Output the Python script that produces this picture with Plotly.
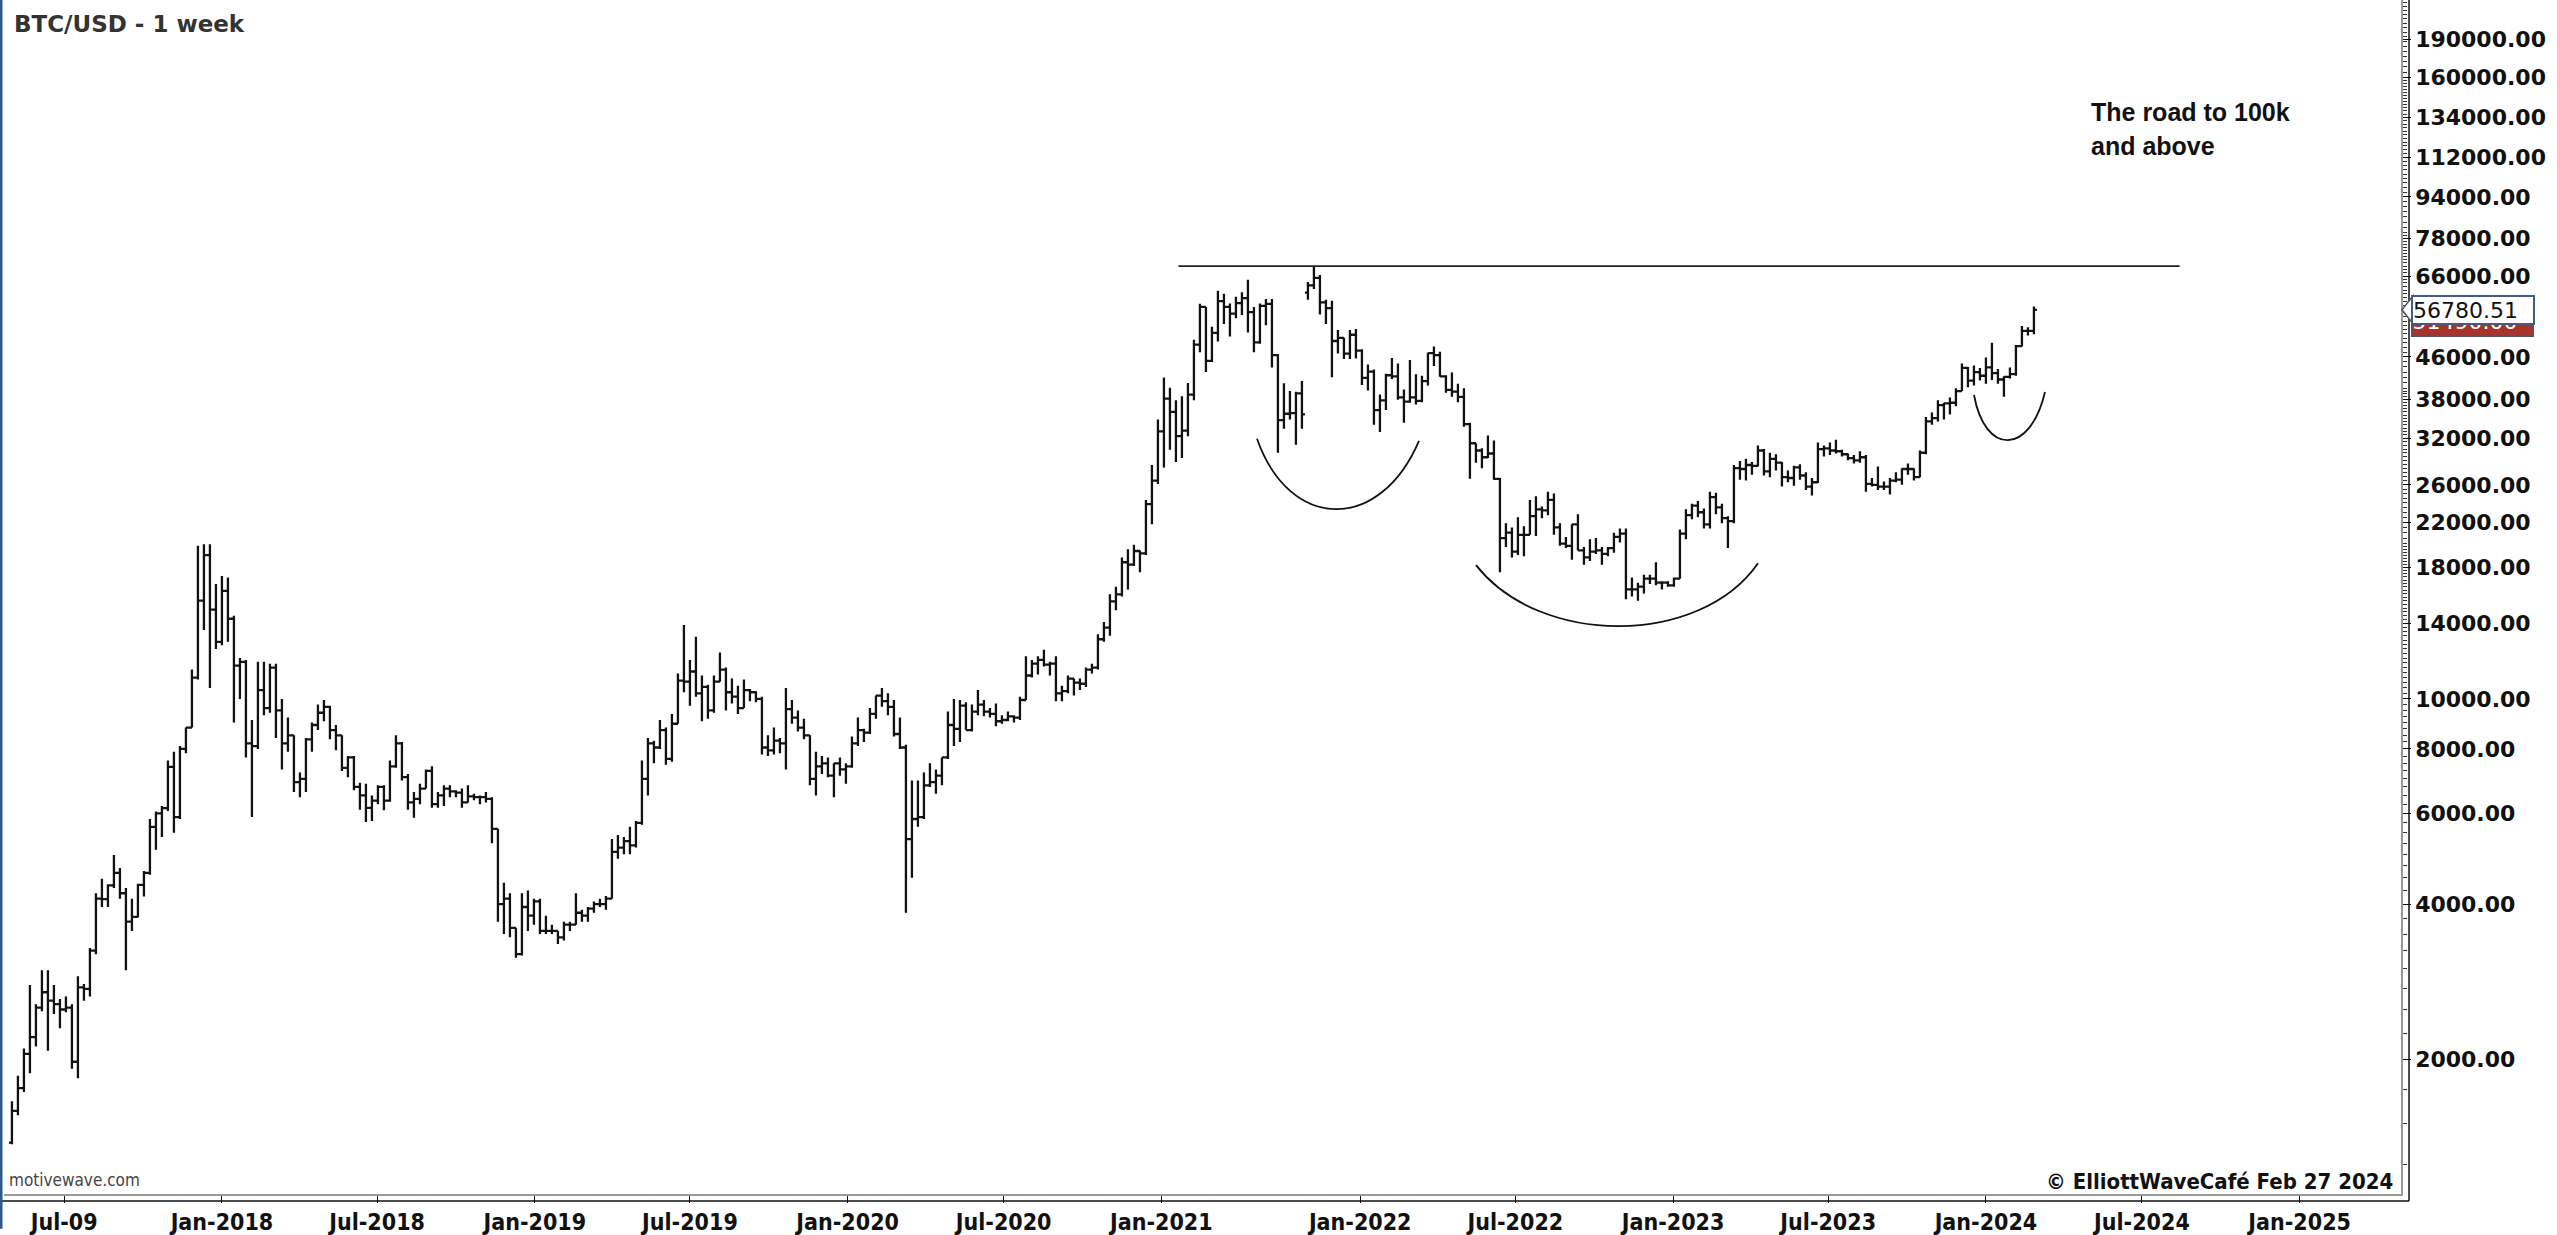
import numpy as np
import pandas as pd
import plotly.graph_objects as go

# ---------------- data: weekly bars [open, high, low, close] ----------------
bars_2017 = [
    [1380, 1660, 1370, 1590], [1590, 1860, 1560, 1760], [1760, 2100, 1730, 2050], [2050, 2790, 1880, 2210],
    [2210, 2560, 2120, 2520], [2520, 2980, 2480, 2700], [2700, 2980, 2080, 2600], [2600, 2790, 2450, 2560],
    [2560, 2620, 2300, 2500], [2500, 2650, 2470, 2520], [2520, 2560, 1920, 1980], [1980, 2900, 1840, 2760],
    [2760, 2800, 2600, 2740], [2740, 3290, 2650, 3250], [3250, 4200, 3200, 4100], [4100, 4480, 3950, 4090],
    [4090, 4370, 3950, 4350], [4350, 4980, 4300, 4600], [4600, 4700, 4100, 4200], [4200, 4300, 2980, 3700],
    [3700, 4100, 3550, 3780], [3780, 4380, 3770, 4360], [4360, 4640, 4140, 4600], [4600, 5850, 4560, 5650],
    [5650, 6050, 5100, 6000], [6000, 6200, 5400, 6140], [6140, 7600, 6060, 7380], [7380, 7900, 5500, 5900],
    [5900, 8100, 5850, 8000], [8000, 8800, 7850, 8800], [8800, 11400, 8800, 11000], [11000, 19800, 10900, 15500],
    [15500, 19950, 13600, 19000], [19000, 19950, 10500, 14900], [14900, 16700, 12500, 12900],
]
bars_2018 = [
    [12900, 17300, 12700, 16200], [16200, 17200, 12900, 14300], [14300, 14500, 9000, 11600], [11600, 12000, 10000, 11800],
    [11800, 11900, 7700, 8200], [8200, 9100, 5900, 8100], [8100, 11800, 8000, 10400], [10400, 11800, 9300, 9600],
    [9600, 11700, 9400, 11500], [11500, 11700, 8400, 9500], [9500, 10000, 7300, 8200], [8200, 9200, 7900, 8500],
    [8500, 8500, 6600, 6900], [6900, 7200, 6450, 7000], [7000, 8400, 6600, 8350], [8350, 9000, 7900, 8900],
    [8900, 9750, 8700, 9400], [9400, 9950, 9050, 9650], [9650, 9700, 8350, 8700], [8700, 8900, 7950, 8500],
    [8500, 8500, 7250, 7350], [7350, 7750, 7050, 7700], [7700, 7750, 6650, 6750], [6750, 6880, 6100, 6500],
    [6500, 6850, 5770, 6150], [6150, 6500, 5800, 6350], [6350, 6800, 6250, 6750], [6750, 6800, 6080, 6350],
    [6350, 7600, 6320, 7400], [7400, 8500, 7350, 8200], [8200, 8250, 6950, 7050], [7050, 7150, 6100, 6300],
    [6300, 6600, 5880, 6400], [6400, 6850, 6250, 6700], [6700, 7300, 6700, 7250], [7250, 7400, 6150, 6250],
    [6250, 6600, 6150, 6500], [6500, 6800, 6200, 6700], [6700, 6800, 6450, 6620], [6620, 6650, 6450, 6580],
    [6580, 6700, 6150, 6300], [6300, 6800, 6300, 6470], [6470, 6550, 6360, 6450], [6450, 6500, 6250, 6450],
    [6450, 6600, 6300, 6400], [6400, 6450, 5250, 5600], [5600, 5600, 3700, 4000], [4000, 4400, 3500, 4100],
    [4100, 4200, 3450, 3600], [3600, 3600, 3150, 3200], [3200, 4200, 3180, 3950], [3950, 4250, 3550, 3800],
    [3800, 4100, 3650, 4050],
]
bars_2019 = [
    [4050, 4100, 3500, 3550], [3550, 3800, 3500, 3550], [3550, 3650, 3500, 3550], [3550, 3550, 3350, 3450],
    [3450, 3700, 3400, 3650], [3650, 3700, 3550, 3650], [3650, 4200, 3650, 3850], [3850, 3900, 3700, 3800],
    [3800, 3950, 3700, 3920], [3920, 4050, 3850, 4000], [4000, 4100, 3950, 4000], [4000, 4150, 3900, 4100],
    [4100, 5350, 4100, 5050], [5050, 5450, 4900, 5150], [5150, 5400, 5000, 5300], [5300, 5650, 5000, 5200],
    [5200, 5800, 5150, 5750], [5750, 7600, 5700, 7000], [7000, 8400, 6500, 8200], [8200, 8300, 7500, 8050],
    [8050, 9100, 8000, 8700], [8700, 8800, 7450, 7650], [7650, 9350, 7550, 8950], [8950, 11200, 8950, 10850],
    [10850, 13900, 10300, 10800], [10800, 11900, 9700, 11300], [11300, 13200, 10100, 10250], [10250, 11100, 9050, 10550],
    [10550, 10650, 9150, 9500], [9500, 11100, 9400, 10800], [10800, 12300, 10800, 11400], [11400, 11500, 9500, 10300],
    [10300, 10950, 9800, 10100], [10100, 10600, 9350, 9600], [9600, 10900, 9600, 10400], [10400, 10450, 9900, 10300],
    [10300, 10350, 9850, 10000], [10000, 10100, 7800, 8050], [8050, 8500, 7750, 7950], [7950, 8800, 7800, 8300],
    [8300, 8400, 7850, 8200], [8200, 10500, 7300, 9550], [9550, 9950, 8950, 9200], [9200, 9500, 8650, 8800],
    [8800, 9150, 8350, 8500], [8500, 8500, 6800, 7000], [7000, 7900, 6500, 7400], [7400, 7750, 7150, 7500],
    [7500, 7700, 7050, 7100], [7100, 7500, 6450, 7500], [7500, 7700, 7100, 7300], [7300, 7500, 6850, 7400],
]
bars_2020 = [
    [7400, 8450, 7350, 8200], [8200, 9200, 8100, 8700], [8700, 8750, 8250, 8600], [8600, 9600, 8550, 9350],
    [9350, 10150, 9150, 10150], [10150, 10500, 9650, 9900], [9900, 10250, 9300, 9650], [9650, 9950, 8450, 8550],
    [8550, 9200, 8000, 8050], [8050, 8150, 3850, 5350], [5350, 6950, 4500, 5850], [5850, 6950, 5650, 5900],
    [5900, 7200, 5850, 6800], [6800, 7500, 6750, 6900], [6900, 7300, 6550, 7100], [7100, 7700, 6800, 7700],
    [7700, 9450, 7650, 8900], [8900, 10000, 8100, 8750], [8750, 9950, 8250, 9700], [9700, 9850, 8700, 8700],
    [8700, 9750, 8650, 9450], [9450, 10400, 9300, 9750], [9750, 9950, 9250, 9450], [9450, 9600, 9200, 9350],
    [9350, 9800, 8850, 9050], [9050, 9300, 8950, 9100], [9100, 9450, 9050, 9250], [9250, 9300, 9000, 9200],
    [9200, 10100, 9100, 9950], [9950, 12100, 9950, 11100], [11100, 11900, 11000, 11700], [11700, 12100, 11150, 11900],
    [11900, 12450, 11550, 11650], [11650, 11800, 11100, 11700], [11700, 12100, 9900, 10250], [10250, 10600, 9900, 10350],
    [10350, 11100, 10250, 10950], [10950, 10950, 10150, 10750], [10750, 10950, 10400, 10700], [10700, 11500, 10550, 11400],
    [11400, 11700, 11200, 11500], [11500, 13350, 11400, 13050], [13050, 14100, 12900, 13750], [13750, 15950, 13250, 15450],
    [15450, 16500, 14850, 15950], [15950, 18800, 15800, 18400], [18400, 19500, 16300, 18200], [18200, 19900, 18100, 19350],
    [19350, 19400, 17600, 19150], [19150, 24300, 19000, 23850], [23850, 28400, 21800, 26500], [26500, 34800, 26100, 33000],
]
bars_2021_h1 = [
    [33000, 41950, 28100, 38200], [38200, 40100, 30400, 36000], [36000, 37900, 28800, 32300], [32300, 38600, 29300, 33100],
    [33100, 40950, 32300, 38900], [38900, 49700, 37900, 48600], [48600, 58350, 47000, 57500], [57500, 57500, 43000, 45200],
    [45200, 52650, 45000, 51200], [51200, 61800, 49300, 59000], [59000, 61000, 53300, 57500], [57500, 58400, 50400, 55800],
    [55800, 60200, 54700, 58500], [58500, 61400, 55500, 59800], [59800, 64900, 51300, 56200], [56200, 57500, 47000, 49100],
    [49100, 58400, 48800, 57800], [57800, 59600, 53000, 58300], [58300, 59600, 43900, 46400], [46400, 46600, 30000, 34700],
    [34700, 40900, 33400, 35700], [35700, 39500, 34800, 35800], [35800, 39400, 31100, 39100], [39100, 41300, 33400, 35600],
]
bars_2021_h2 = [
    [61300, 64300, 59400, 63300], [63300, 69000, 62300, 65500], [65500, 66300, 55600, 58700], [58700, 59400, 53300, 57200],
    [57200, 59100, 42000, 49400], [49400, 51900, 46700, 50100], [50100, 50100, 45600, 46700], [46700, 51900, 45600, 50800],
    [50800, 52100, 45700, 47300],
]
bars_2022 = [
    [47300, 47600, 40600, 41900], [41900, 44500, 39600, 43100], [43100, 43500, 34000, 36300], [36300, 38900, 32900, 37900],
    [37900, 42700, 36300, 42400], [42400, 45800, 41700, 42200], [42200, 44700, 38000, 38400], [38400, 39800, 34300, 37700],
    [37700, 45400, 37500, 38400], [38400, 42600, 37200, 37800], [37800, 42300, 37600, 41300], [41300, 46900, 40500, 46800],
    [46800, 48200, 44200, 46400], [46400, 47100, 42100, 42200], [42200, 42400, 39200, 39700], [39700, 42900, 38500, 39400],
    [39400, 40800, 37600, 38500], [38500, 40000, 33700, 34100], [34100, 34300, 26700, 31300], [31300, 31300, 28700, 30300],
    [30300, 30600, 28000, 29400], [29400, 32400, 29300, 29900], [29900, 31700, 26600, 26700], [26700, 26800, 17600, 20500],
    [20500, 21900, 19700, 21000], [21000, 21500, 18800, 19300], [19300, 22500, 19000, 20800], [20800, 21600, 18900, 20800],
    [20800, 24300, 20800, 22600], [22600, 24700, 20700, 23300], [23300, 23600, 22400, 23200], [23200, 25200, 22700, 24300],
    [24300, 25000, 20800, 21500], [21500, 21900, 19800, 20000], [20000, 20600, 19600, 19800], [19800, 21800, 18600, 21800],
    [21800, 22800, 19400, 19400], [19400, 19700, 18200, 18800], [18800, 20400, 18500, 19300], [19300, 20500, 19100, 19400],
    [19400, 19700, 18200, 19100], [19100, 19700, 18900, 19600], [19600, 21000, 19200, 20600], [20600, 21400, 20100, 20900],
    [20900, 21400, 15600, 16300], [16300, 17200, 15800, 16300], [16300, 16800, 15500, 16500], [16500, 17400, 16000, 17100],
    [17100, 17400, 16700, 17100], [17100, 18400, 16600, 16800], [16800, 16900, 16300, 16800], [16800, 16900, 16500, 16600],
]
bars_2023 = [
    [16600, 17200, 16500, 17100], [17100, 21300, 17100, 20900], [20900, 23300, 20400, 22700], [22700, 23900, 22300, 23700],
    [23700, 24200, 22500, 23000], [23000, 23400, 21400, 21800], [21800, 25200, 21400, 24600], [24600, 25100, 22800, 23500],
    [23500, 23900, 21900, 22400], [22400, 22600, 19600, 22100], [22100, 28400, 21900, 28000], [28000, 28900, 26600, 27900],
    [27900, 29200, 26500, 28400], [28400, 28800, 27200, 28300], [28300, 31000, 28200, 30300], [30300, 30500, 27100, 27600],
    [27600, 30000, 26900, 29200], [29200, 29800, 27700, 28700], [28700, 28800, 25800, 26900], [26900, 27700, 26300, 26800],
    [26800, 28300, 25900, 28100], [28100, 28500, 26600, 27100], [27100, 27500, 25400, 25800], [25800, 26800, 24800, 26300],
    [26300, 31400, 26200, 30500], [30500, 31000, 29500, 30600], [30600, 31400, 29700, 30300], [30300, 31800, 29900, 30200],
    [30200, 30400, 29500, 29800], [29800, 29900, 29000, 29300], [29300, 29700, 28600, 29000], [29000, 30200, 28700, 29400],
    [29400, 29700, 25200, 26100], [26100, 26800, 25800, 26000], [26000, 28200, 25400, 25800], [25800, 26400, 25400, 25800],
    [25800, 26800, 24900, 26500], [26500, 27500, 26300, 26600], [26600, 28000, 26000, 27900], [27900, 28600, 27200, 27900],
    [27900, 28000, 26500, 26900], [26900, 30300, 26900, 30000], [30000, 35200, 29800, 34500], [34500, 35900, 34000, 35000],
    [35000, 37900, 34500, 37100], [37100, 37500, 34800, 37400], [37400, 38400, 35600, 37500], [37500, 40000, 36900, 39500],
    [39500, 44700, 39500, 43800], [43800, 44000, 40200, 41400], [41400, 44300, 40500, 43000], [43000, 43800, 41400, 42300],
]
bars_2024 = [
    [42300, 45900, 40800, 43900], [43900, 49000, 41500, 42800], [42800, 43600, 40800, 41600], [41600, 42200, 38500, 42100],
    [42100, 43900, 41800, 42600], [42600, 48500, 42300, 48300], [48300, 52800, 48200, 51700], [51700, 52500, 50600, 51700],
    [51700, 57600, 50900, 56780.51],
]

# week-start dates of the two data segments (data feed has a hole Jun–Oct 2021)
seg1_dates = pd.date_range("2017-05-01", "2021-06-14", freq="7D")
seg2_dates = pd.date_range("2021-11-01", "2024-02-26", freq="7D")
seg1 = bars_2017 + bars_2018 + bars_2019 + bars_2020 + bars_2021_h1
seg2 = bars_2021_h2 + bars_2022 + bars_2023 + bars_2024
assert len(seg1) == len(seg1_dates), (len(seg1), len(seg1_dates))
assert len(seg2) == len(seg2_dates), (len(seg2), len(seg2_dates))

dates = list(seg1_dates) + list(seg2_dates)
ohlc = np.array(seg1 + seg2, dtype=float)
opens, highs, lows, closes = ohlc[:, 0], ohlc[:, 1], ohlc[:, 2], ohlc[:, 3]

data_gap = ["2021-06-21", "2021-11-01"]

x_tick_dates = ["2017-07-01", "2018-01-01", "2018-07-01", "2019-01-01", "2019-07-01", "2020-01-01",
                "2020-07-01", "2021-01-01", "2022-01-01", "2022-07-01", "2023-01-01", "2023-07-01",
                "2024-01-01", "2024-07-01", "2025-01-01"]
x_tick_labels = ["Jul-09", "Jan-2018", "Jul-2018", "Jan-2019", "Jul-2019", "Jan-2020", "Jul-2020",
                 "Jan-2021", "Jan-2022", "Jul-2022", "Jan-2023", "Jul-2023", "Jan-2024", "Jul-2024", "Jan-2025"]

y_tick_values = [2000, 4000, 6000, 8000, 10000, 14000, 18000, 22000, 26000, 32000, 38000, 46000,
                 56000, 66000, 78000, 94000, 112000, 134000, 160000, 190000]

resistance_level = 69000
resistance_dates = ["2021-01-21", "2024-08-14"]
prev_label_value = 51490.00

# ---------------- layout geometry ----------------
W, H = 2557, 1235
ML, MR, MT, MB = 4, 156, 0, 35
PW, PH = W - ML - MR, H - MT - MB
Y_RANGE = [3.04031, 5.35468]
X_RANGE = ["2017-04-21 18:00", "2025-04-29 06:00"]


def fx(px):
    return (px - ML) / PW


def fy(py):
    return 1 - (py - MT) / PH


def fy_val(v):
    return (np.log10(v) - Y_RANGE[0]) / (Y_RANGE[1] - Y_RANGE[0])


minor_vals = list(np.arange(1250, 10000, 250)) + list(np.arange(10000, 20000, 250)) + \
    list(np.arange(20000, 40000, 500)) + list(np.arange(40000, 80000, 1000)) + \
    list(np.arange(80000, 160000, 2000)) + list(np.arange(160000, 230000, 4000))
minor_vals = [float(v) for v in minor_vals]

fig = go.Figure()
fig.add_trace(go.Ohlc(
    x=dates, open=opens, high=highs, low=lows, close=closes,
    increasing=dict(line=dict(color="#111111", width=2.3)),
    decreasing=dict(line=dict(color="#111111", width=2.3)),
    tickwidth=0.5, showlegend=False, hoverinfo="skip",
))
fig.add_trace(go.Scatter(
    x=resistance_dates, y=[resistance_level, resistance_level], mode="lines",
    line=dict(color="#222222", width=1.6), showlegend=False, hoverinfo="skip",
))

shapes = []
# rounding-bottom arcs (pixel-anchored sketches)
arcs = [
    [(1257, 441), (1290, 535), (1380, 535), (1419, 443)],
    [(1476, 568), (1540, 650), (1700, 650), (1758, 566)],
    [(1974, 397), (1985, 458), (2030, 458), (2045, 394)],
]
for p0, c1, c2, p1 in arcs:
    path = "M {:.5f},{:.5f} C {:.5f},{:.5f} {:.5f},{:.5f} {:.5f},{:.5f}".format(
        fx(p0[0]), fy(p0[1]), fx(c1[0]), fy(c1[1]), fx(c2[0]), fy(c2[1]), fx(p1[0]), fy(p1[1]))
    shapes.append(dict(type="path", path=path, xref="paper", yref="paper",
                       line=dict(color="#111111", width=1.8)))
# outer black frame lines (bottom and right)
shapes.append(dict(type="line", xref="paper", yref="paper", x0=fx(0), x1=fx(2409), y0=fy(1207), y1=fy(1207),
                   line=dict(color="#111111", width=1.5)))
shapes.append(dict(type="line", xref="paper", yref="paper", x0=fx(2409), x1=fx(2409), y0=fy(1207), y1=fy(0),
                   line=dict(color="#111111", width=1.5)))
# left blue edge
shapes.append(dict(type="rect", xref="paper", yref="paper", x0=fx(0), x1=fx(2.5), y0=fy(H), y1=fy(0),
                   fillcolor="#2f5b88", line=dict(width=0)))
# pointer of the price tag
last_y = fy_val(closes[-1])
shapes.append(dict(type="path", xref="paper", yref="paper",
                   path="M {:.5f},{:.5f} L {:.5f},{:.5f} L {:.5f},{:.5f} Z".format(
                       fx(2402), last_y, fx(2413), last_y + 14 / PH, fx(2413), last_y - 14 / PH),
                   fillcolor="white", line=dict(color="#4a5a6a", width=1.5)))

annotations = [
    dict(text="BTC/USD - 1 week", x=fx(12), y=fy(9), xref="paper", yref="paper", xanchor="left", yanchor="top",
         showarrow=False, font=dict(family="DejaVu Sans", size=23, color="#333333", weight="bold")),
    dict(text="The road to 100k", x=fx(2089), y=fy(113), xref="paper", yref="paper", xanchor="left",
         yanchor="middle", showarrow=False,
         font=dict(family="Arial", size=25, color="#111111", weight="bold")),
    dict(text="and above", x=fx(2089), y=fy(147), xref="paper", yref="paper", xanchor="left",
         yanchor="middle", showarrow=False,
         font=dict(family="Arial", size=25, color="#111111", weight="bold")),
    dict(text="motivewave.com", x=fx(7), y=fy(1186), xref="paper", yref="paper", xanchor="left",
         yanchor="middle", showarrow=False,
         font=dict(family="DejaVu Sans Condensed, DejaVu Sans", size=17, color="#444444")),
    dict(text="\u00a9 ElliottWaveCaf\u00e9 Feb 27 2024", x=fx(2395), y=fy(1187), xref="paper", yref="paper",
         xanchor="right", yanchor="middle", showarrow=False,
         font=dict(family="DejaVu Sans Condensed, DejaVu Sans", size=22, color="#111111", weight="bold")),
    dict(text="{:.2f}".format(prev_label_value), x=fx(2411), y=last_y - 12 / PH, xref="paper", yref="paper",
         xanchor="left", yanchor="middle", showarrow=False, width=120, height=28, align="left",
         bgcolor="#a8322d", bordercolor="#555555", borderwidth=1.5, borderpad=0,
         font=dict(family="DejaVu Sans", size=22, color="white")),
    dict(text="{:.2f}".format(closes[-1]), x=fx(2411), y=last_y, xref="paper", yref="paper",
         xanchor="left", yanchor="middle", showarrow=False, width=120, height=26, align="left",
         bgcolor="white", bordercolor="#3f5f82", borderwidth=2, borderpad=0,
         font=dict(family="DejaVu Sans", size=22, color="#111111")),
]

fig.update_layout(
    width=W, height=H, margin=dict(l=ML, r=MR, t=MT, b=MB),
    paper_bgcolor="white", plot_bgcolor="white",
    shapes=shapes, annotations=annotations, showlegend=False,
    xaxis=dict(
        type="date", range=X_RANGE, rangebreaks=[dict(bounds=data_gap)],
        rangeslider=dict(visible=False),
        tickmode="array", tickvals=x_tick_dates, ticktext=x_tick_labels,
        ticks="outside", ticklen=7, tickcolor="#111111", tickwidth=1,
        showline=True, linecolor="#9a9a9a", linewidth=1.5, showgrid=False, zeroline=False,
        tickfont=dict(family="DejaVu Sans Condensed, DejaVu Sans", size=23, color="#111111", weight="bold"),
    ),
    yaxis=dict(
        type="log", range=Y_RANGE, side="right",
        tickmode="array", tickvals=y_tick_values, tickformat=".2f",
        ticks="outside", ticklen=8, tickcolor="#111111", tickwidth=1,
        minor=dict(tickmode="array", tickvals=minor_vals, ticks="outside", ticklen=4, tickcolor="#333333"),
        showline=True, linecolor="#9a9a9a", linewidth=1.5, showgrid=False, zeroline=False,
        tickfont=dict(family="DejaVu Sans", size=22, color="#111111", weight="bold"),
    ),
)

fig.write_html("out.html", config={"displayModeBar": False},
               post_script="document.body.style.margin='0';document.body.style.overflow='hidden';")
